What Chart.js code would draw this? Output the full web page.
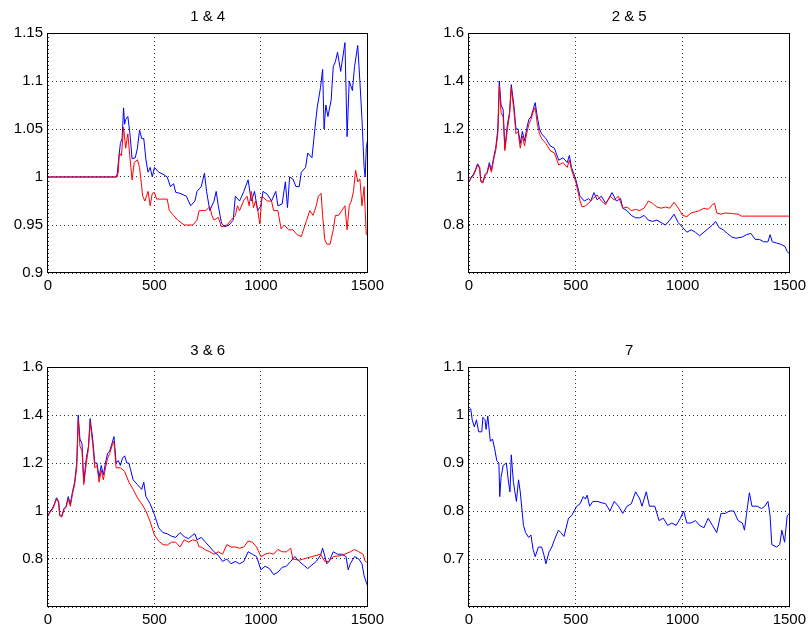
<!DOCTYPE html>
<html>
<head>
<meta charset="utf-8">
<title>1 & 4 / 2 & 5 / 3 & 6 / 7</title>
<script src="https://cdn.jsdelivr.net/npm/chart.js@4/dist/chart.umd.min.js"></script>
<style>
  body { margin: 0; background: #fff; overflow: hidden; }
  canvas { position: absolute; }
</style>
</head>
<body>
<canvas id="p1" width="388" height="300" style="left:0px;top:0px"></canvas>
<canvas id="p2" width="389" height="300" style="left:421px;top:0px"></canvas>
<canvas id="p3" width="388" height="300" style="left:0px;top:334px"></canvas>
<canvas id="p4" width="389" height="300" style="left:421px;top:334px"></canvas>
<script>
// titres des sous-graphiques
const titles = ["1 & 4", "2 & 5", "3 & 6", "7"];
const xTicks = [0, 500, 1000, 1500];

// panneau 1 : séries 1 (bleu) et 4 (rouge)
const s1X = [0, 320, 325, 335, 340, 348, 355, 360, 365, 375, 385, 395, 410, 420, 430, 440, 450, 460, 470, 480, 490, 500, 520, 540, 560, 575, 590, 600, 620, 650, 670, 690, 700, 720, 735, 745, 760, 780, 790, 800, 815, 830, 850, 870, 880, 900, 920, 940, 955, 970, 985, 1000, 1010, 1030, 1050, 1070, 1080, 1100, 1115, 1125, 1135, 1150, 1165, 1180, 1190, 1210, 1220, 1240, 1255, 1265, 1280, 1290, 1297, 1305, 1315, 1330, 1340, 1350, 1360, 1375, 1385, 1395, 1405, 1415, 1430, 1440, 1455, 1465, 1475, 1485, 1490, 1495, 1500];
const s1Y = [1.0, 1.0, 1.003, 1.025, 1.035, 1.04, 1.072, 1.055, 1.06, 1.063, 1.045, 1.019, 1.02, 1.03, 1.049, 1.04, 1.04, 1.018, 1.005, 1.01, 1.0, 1.01, 1.005, 1.003, 1.0, 0.99, 0.993, 0.984, 0.983, 0.98, 0.97, 0.975, 0.985, 0.99, 1.004, 0.985, 0.965, 0.975, 0.985, 0.97, 0.952, 0.948, 0.95, 0.955, 0.98, 0.975, 0.985, 0.997, 0.975, 0.985, 0.965, 0.97, 0.985, 0.982, 0.975, 0.985, 0.97, 0.972, 0.995, 0.968, 1.0, 0.998, 0.99, 0.99, 1.005, 1.01, 1.025, 1.02, 1.053, 1.073, 1.093, 1.112, 1.05, 1.075, 1.063, 1.08, 1.115, 1.12, 1.13, 1.11, 1.125, 1.14, 1.042, 1.1, 1.09, 1.115, 1.137, 1.1, 1.06, 1.01, 1.0, 1.03, 1.037];
const s4X = [0, 325, 330, 335, 345, 355, 365, 375, 385, 395, 405, 420, 430, 440, 445, 455, 470, 480, 490, 500, 510, 540, 560, 570, 590, 610, 640, 680, 700, 710, 740, 760, 770, 780, 800, 815, 840, 860, 880, 890, 900, 920, 935, 945, 955, 965, 975, 985, 995, 1005, 1030, 1050, 1060, 1080, 1095, 1110, 1130, 1150, 1170, 1190, 1200, 1215, 1230, 1245, 1260, 1270, 1283, 1290, 1300, 1310, 1325, 1340, 1350, 1365, 1380, 1395, 1405, 1415, 1425, 1435, 1445, 1455, 1465, 1475, 1485, 1490, 1495, 1500];
const s4Y = [1.0, 1.0, 1.005, 1.025, 1.022, 1.052, 1.03, 1.045, 1.02, 0.997, 1.015, 1.018, 1.01, 0.99, 0.98, 0.975, 0.985, 0.97, 0.983, 0.984, 0.977, 0.977, 0.977, 0.965, 0.96, 0.955, 0.95, 0.95, 0.955, 0.965, 0.965, 0.969, 0.96, 0.955, 0.958, 0.948, 0.95, 0.955, 0.96, 0.97, 0.965, 0.976, 0.98, 0.97, 0.985, 0.968, 0.975, 0.966, 0.951, 0.98, 0.975, 0.975, 0.965, 0.965, 0.946, 0.95, 0.945, 0.945, 0.94, 0.938, 0.945, 0.955, 0.965, 0.96, 0.97, 0.98, 0.983, 0.96, 0.935, 0.93, 0.93, 0.945, 0.96, 0.96, 0.965, 0.97, 0.945, 0.97, 0.975, 0.985, 1.007, 0.995, 0.998, 0.97, 0.99, 0.965, 0.94, 0.94];

// panneau 2 : séries 2 (bleu) et 5 (rouge)
const s2X = [0, 10, 20, 30, 40, 50, 55, 65, 75, 85, 95, 105, 115, 125, 135, 142, 150, 160, 168, 180, 190, 198, 210, 220, 230, 240, 250, 260, 270, 280, 290, 300, 310, 320, 330, 340, 360, 380, 400, 420, 440, 460, 470, 480, 500, 520, 540, 560, 570, 585, 600, 620, 640, 655, 670, 690, 710, 720, 740, 760, 780, 800, 820, 840, 860, 880, 900, 920, 940, 960, 980, 1000, 1020, 1040, 1060, 1080, 1100, 1120, 1140, 1155, 1170, 1190, 1210, 1230, 1250, 1280, 1300, 1320, 1340, 1360, 1380, 1400, 1410, 1420, 1440, 1460, 1480, 1490, 1500];
const s2Y = [0.98, 1.0, 1.01, 1.03, 1.055, 1.04, 0.985, 0.98, 1.01, 1.02, 1.06, 1.03, 1.08, 1.12, 1.2, 1.4, 1.3, 1.28, 1.12, 1.22, 1.27, 1.385, 1.3, 1.2, 1.2, 1.14, 1.19, 1.15, 1.2, 1.24, 1.25, 1.28, 1.31, 1.25, 1.2, 1.18, 1.16, 1.13, 1.12, 1.07, 1.08, 1.06, 1.09, 1.04, 0.99, 0.92, 0.9, 0.91, 0.9, 0.935, 0.905, 0.92, 0.89, 0.91, 0.935, 0.9, 0.91, 0.87, 0.86, 0.84, 0.83, 0.83, 0.84, 0.82, 0.815, 0.82, 0.81, 0.8, 0.82, 0.845, 0.81, 0.79, 0.77, 0.78, 0.77, 0.755, 0.77, 0.785, 0.8, 0.815, 0.79, 0.78, 0.765, 0.75, 0.745, 0.75, 0.76, 0.765, 0.74, 0.74, 0.73, 0.73, 0.76, 0.73, 0.725, 0.72, 0.71, 0.69, 0.68];
const s5X = [0, 10, 20, 30, 40, 50, 55, 65, 75, 85, 95, 105, 115, 125, 135, 142, 150, 160, 168, 180, 190, 198, 210, 220, 230, 240, 250, 260, 270, 280, 290, 300, 310, 320, 330, 340, 360, 380, 400, 420, 440, 460, 470, 480, 500, 520, 530, 545, 560, 580, 600, 620, 640, 660, 680, 700, 720, 740, 760, 780, 800, 820, 840, 860, 880, 900, 920, 940, 960, 980, 1000, 1020, 1040, 1060, 1080, 1100, 1120, 1140, 1150, 1160, 1180, 1200, 1230, 1260, 1275, 1500];
const s5Y = [0.98, 0.995, 1.005, 1.025, 1.05, 1.035, 0.98, 0.975, 1.005, 1.015, 1.05, 1.02, 1.07, 1.11, 1.18, 1.38, 1.27, 1.25, 1.11, 1.2, 1.26, 1.37, 1.28, 1.18, 1.19, 1.12, 1.17, 1.13, 1.18, 1.22, 1.24, 1.27, 1.29, 1.22, 1.18, 1.16, 1.14, 1.11, 1.1, 1.05, 1.06, 1.04, 1.07, 1.03, 0.98, 0.9, 0.875, 0.88, 0.89, 0.91, 0.925, 0.9, 0.885, 0.92, 0.905, 0.92, 0.87, 0.875, 0.86, 0.865, 0.86, 0.87, 0.9, 0.89, 0.875, 0.87, 0.875, 0.87, 0.895, 0.87, 0.84, 0.835, 0.85, 0.855, 0.86, 0.87, 0.865, 0.885, 0.89, 0.85, 0.845, 0.85, 0.848, 0.845, 0.837, 0.837];

// panneau 3 : séries 3 (bleu) et 6 (rouge)
const s3X = [0, 10, 20, 30, 40, 50, 55, 65, 75, 85, 95, 105, 115, 125, 135, 142, 150, 160, 168, 180, 190, 198, 210, 220, 230, 240, 250, 260, 270, 280, 290, 300, 310, 320, 330, 340, 350, 360, 370, 380, 400, 420, 440, 450, 460, 480, 500, 520, 540, 560, 580, 600, 620, 640, 660, 680, 690, 700, 720, 740, 760, 780, 800, 820, 840, 860, 880, 900, 920, 940, 960, 980, 1000, 1020, 1040, 1060, 1080, 1100, 1120, 1140, 1160, 1180, 1200, 1220, 1240, 1260, 1280, 1290, 1310, 1320, 1340, 1360, 1380, 1400, 1410, 1420, 1440, 1460, 1475, 1485, 1500];
const s3Y = [0.98, 1.0, 1.01, 1.03, 1.055, 1.04, 0.985, 0.98, 1.01, 1.02, 1.06, 1.03, 1.08, 1.12, 1.2, 1.4, 1.3, 1.28, 1.12, 1.22, 1.27, 1.385, 1.3, 1.2, 1.2, 1.14, 1.19, 1.15, 1.2, 1.24, 1.25, 1.28, 1.31, 1.2, 1.21, 1.19, 1.22, 1.23, 1.2, 1.2, 1.13, 1.11, 1.09, 1.12, 1.06, 1.03, 0.985, 0.93, 0.91, 0.905, 0.895, 0.89, 0.91, 0.893, 0.885, 0.9, 0.905, 0.88, 0.89, 0.87, 0.85, 0.83, 0.815, 0.79, 0.8, 0.78, 0.79, 0.78, 0.79, 0.83, 0.82, 0.81, 0.755, 0.77, 0.76, 0.735, 0.745, 0.765, 0.77, 0.79, 0.81, 0.79, 0.775, 0.76, 0.775, 0.79, 0.815, 0.845, 0.78, 0.79, 0.83, 0.82, 0.82, 0.81, 0.755, 0.78, 0.81, 0.8, 0.78, 0.73, 0.69];
const s6X = [0, 10, 20, 30, 40, 50, 55, 65, 75, 85, 95, 105, 115, 125, 135, 142, 150, 160, 168, 180, 190, 198, 210, 220, 230, 240, 250, 260, 270, 280, 290, 300, 310, 320, 340, 360, 380, 400, 420, 440, 460, 480, 500, 520, 540, 560, 580, 600, 620, 640, 660, 680, 700, 710, 720, 740, 760, 780, 800, 820, 840, 860, 880, 900, 920, 940, 960, 980, 1000, 1020, 1040, 1060, 1080, 1100, 1120, 1140, 1150, 1180, 1200, 1240, 1280, 1300, 1320, 1340, 1380, 1420, 1440, 1460, 1480, 1490, 1500];
const s6Y = [0.98, 0.995, 1.005, 1.025, 1.05, 1.035, 0.98, 0.975, 1.005, 1.015, 1.05, 1.02, 1.07, 1.11, 1.18, 1.38, 1.27, 1.25, 1.11, 1.2, 1.26, 1.37, 1.28, 1.18, 1.19, 1.12, 1.17, 1.13, 1.18, 1.22, 1.24, 1.27, 1.29, 1.18, 1.18, 1.165, 1.12, 1.09, 1.055, 1.03, 1.0, 0.955, 0.9, 0.875, 0.86, 0.858, 0.87, 0.87, 0.85, 0.88, 0.87, 0.88, 0.875, 0.85, 0.85, 0.838, 0.83, 0.82, 0.83, 0.82, 0.86, 0.85, 0.85, 0.845, 0.85, 0.875, 0.87, 0.85, 0.81, 0.82, 0.825, 0.82, 0.84, 0.83, 0.83, 0.845, 0.8, 0.795, 0.8, 0.81, 0.82, 0.79, 0.79, 0.81, 0.815, 0.83, 0.84, 0.83, 0.82, 0.79, 0.785];

// panneau 4 : série 7 (bleu)
const s7X = [0, 8, 15, 25, 35, 45, 60, 65, 75, 80, 88, 100, 110, 120, 130, 140, 144, 150, 160, 175, 185, 192, 198, 208, 215, 222, 232, 240, 255, 265, 279, 290, 300, 310, 325, 340, 350, 360, 375, 388, 400, 419, 430, 445, 466, 480, 505, 520, 535, 545, 553, 565, 580, 600, 640, 660, 680, 700, 720, 740, 760, 780, 800, 810, 830, 845, 870, 890, 910, 930, 950, 970, 990, 1005, 1020, 1040, 1060, 1080, 1100, 1120, 1140, 1160, 1180, 1200, 1220, 1240, 1260, 1280, 1290, 1300, 1313, 1325, 1350, 1370, 1385, 1400, 1410, 1418, 1440, 1455, 1465, 1478, 1490, 1500];
const s7Y = [1.01, 1.013, 0.99, 0.975, 0.99, 0.965, 0.965, 0.995, 0.99, 0.97, 0.998, 0.945, 0.95, 0.93, 0.905, 0.9, 0.83, 0.87, 0.895, 0.9, 0.86, 0.84, 0.917, 0.86, 0.84, 0.82, 0.865, 0.84, 0.77, 0.755, 0.745, 0.75, 0.72, 0.705, 0.725, 0.725, 0.71, 0.69, 0.715, 0.725, 0.74, 0.76, 0.755, 0.747, 0.785, 0.79, 0.81, 0.815, 0.83, 0.825, 0.833, 0.81, 0.82, 0.82, 0.815, 0.8, 0.82, 0.81, 0.795, 0.81, 0.815, 0.84, 0.825, 0.81, 0.84, 0.81, 0.81, 0.78, 0.785, 0.77, 0.775, 0.77, 0.785, 0.8, 0.775, 0.775, 0.78, 0.77, 0.765, 0.785, 0.77, 0.755, 0.795, 0.795, 0.8, 0.8, 0.78, 0.775, 0.76, 0.795, 0.838, 0.81, 0.81, 0.805, 0.81, 0.82, 0.79, 0.73, 0.725, 0.73, 0.76, 0.735, 0.79, 0.795];

const BLEU = "#0000ff";
const ROUGE = "#ff0000";

Chart.defaults.font.family = "'Liberation Sans', Arial, sans-serif";
Chart.defaults.font.size = 15;
Chart.defaults.color = "#000";

// transforme deux listes en points {x, y}
function points(xs, ys) {
    const n = Math.min(xs.length, ys.length);
    const res = [];
    for (let i = 0; i < n; i++) {
        res.push({ x: xs[i], y: ys[i] });
    }
    return res;
}

// cadre noir + titre au-dessus de la zone de tracé (style matlab)
const cadreTitre = {
    id: "cadreTitre",
    afterDraw(chart, args, opts) {
        const a = chart.chartArea;
        const ctx = chart.ctx;
        ctx.save();
        ctx.strokeStyle = "#000";
        ctx.lineWidth = 1;
        ctx.strokeRect(Math.round(a.left) - 0.5, Math.round(a.top) + 0.5,
            Math.round(a.right - a.left) + 1, Math.round(a.bottom - a.top) - 1);
        ctx.fillStyle = "#000";
        ctx.font = "15px 'Liberation Sans', Arial, sans-serif";
        ctx.textAlign = "center";
        ctx.textBaseline = "alphabetic";
        ctx.fillText(opts.text, (a.left + a.right) / 2, a.top - 12);
        ctx.restore();
    }
};

function creerPanneau(id, titre, yMin, yMax, yStep, cacherMin, series) {
    const datasets = [];
    for (const s of series) {
        datasets.push({
            data: points(s.x, s.y),
            borderColor: s.couleur,
            borderWidth: 1,
            pointRadius: 0,
            tension: 0,
            fill: false
        });
    }
    return new Chart(document.getElementById(id), {
        type: "line",
        data: { datasets: datasets },
        options: {
            responsive: false,
            animation: false,
            events: [],
            layout: { padding: { top: 33, right: 20, left: 0, bottom: 0 } },
            plugins: {
                legend: { display: false },
                tooltip: { enabled: false },
                cadreTitre: { text: titre }
            },
            scales: {
                x: {
                    type: "linear",
                    min: 0,
                    max: 1500,
                    afterBuildTicks: (axis) => { axis.ticks = xTicks.map(v => ({ value: v })); },
                    ticks: { padding: 4, maxRotation: 0, callback: (v) => String(v) },
                    grid: { color: "#333", lineWidth: 1, drawTicks: false },
                    border: { display: false, dash: [1, 3] },
                    afterFit: (axis) => { axis.height = 27; }
                },
                y: {
                    type: "linear",
                    min: yMin,
                    max: yMax,
                    ticks: {
                        stepSize: yStep,
                        padding: 5,
                        callback: (v) => (cacherMin && Math.abs(v - yMin) < 1e-6) ? "" : String(+v.toFixed(2))
                    },
                    grid: { color: "#333", lineWidth: 1, drawTicks: false },
                    border: { display: false, dash: [1, 3] },
                    afterFit: (axis) => { axis.width = 48; }
                }
            }
        },
        plugins: [cadreTitre]
    });
}

// le rouge est tracé par-dessus le bleu : premier jeu = dessus
creerPanneau("p1", titles[0], 0.9, 1.15, 0.05, false, [
    { x: s4X, y: s4Y, couleur: ROUGE },
    { x: s1X, y: s1Y, couleur: BLEU }
]);
creerPanneau("p2", titles[1], 0.6, 1.6, 0.2, true, [
    { x: s5X, y: s5Y, couleur: ROUGE },
    { x: s2X, y: s2Y, couleur: BLEU }
]);
creerPanneau("p3", titles[2], 0.6, 1.6, 0.2, true, [
    { x: s6X, y: s6Y, couleur: ROUGE },
    { x: s3X, y: s3Y, couleur: BLEU }
]);
creerPanneau("p4", titles[3], 0.6, 1.1, 0.1, true, [
    { x: s7X, y: s7Y, couleur: BLEU }
]);
</script>
</body>
</html>
